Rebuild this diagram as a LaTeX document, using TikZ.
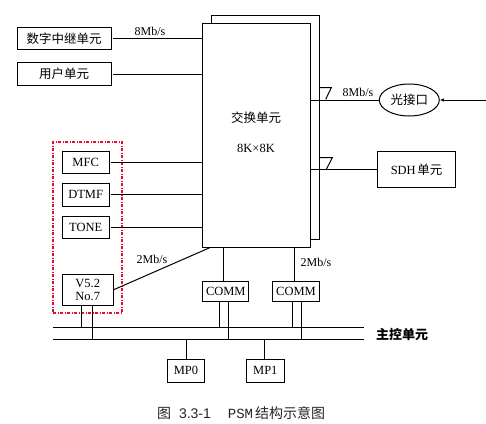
\documentclass[tikz,border=0pt]{standalone}
\usepackage{fontspec}
\setmainfont{Liberation Serif}
\newfontfamily\cjk{Noto Sans CJK SC}
\newfontfamily\capsans{Liberation Sans}
\newfontfamily\capmono{Liberation Mono}
\usetikzlibrary{arrows.meta,shapes.geometric,calc}
\definecolor{dashred}{RGB}{235,10,50}
\tikzset{
  box/.style={draw, inner sep=0pt, font=\fontsize{12.5}{14}\selectfont},
  cjkbox/.style={box, font=\cjk\fontsize{12.5}{14}\selectfont},
  lbl/.style={inner sep=0pt, font=\fontsize{12}{14}\selectfont},
  reddash/.style={draw=dashred, line width=1.2pt, dash pattern=on 3pt off 1.5pt on 1pt off 1.5pt},
}
\begin{document}
\begin{tikzpicture}[x=1pt,y=-1pt,line width=1pt]
\useasboundingbox (0,0) rectangle (486,423);
% switching unit (double box)
\draw (211,15) rectangle (319,239);
\node[box, fill=white, minimum width=108pt, minimum height=224pt] (sw) at (256,135) {};
\node[font=\cjk\fontsize{12.5}{14}\selectfont] (swt1) at (256,118) {交换单元};
\node[font=\fontsize{12.5}{14}\selectfont] (swt2) at (256,148) {8K×8K};
% left units
\node[cjkbox, minimum width=94pt, minimum height=22pt] (dt) at (64,38.3) {数字中继单元};
\node[cjkbox, minimum width=94pt, minimum height=23pt] (yh) at (64,74) {用户单元};
\draw ([xshift=1.3pt]dt.east) -- (dt.east -| sw.west);
\draw ([xshift=1.3pt]yh.east) -- (yh.east -| sw.west);
\node[lbl] (r1) at (150,31) {8Mb/s};
% signalling group
\node[reddash, minimum width=69pt, minimum height=171pt] (grp) at (87.5,227.5) {};
\node[box, minimum width=47pt, minimum height=22pt] (mfc) at (85.7,162.3) {MFC};
\node[box, minimum width=47pt, minimum height=23pt] (dtmf) at (85.7,194.7) {DTMF};
\node[box, minimum width=47pt, minimum height=22pt] (tone) at (85.7,227.3) {TONE};
\draw ([xshift=1.5pt]mfc.east) -- (mfc.east -| sw.west);
\draw ([xshift=1.5pt]dtmf.east) -- (dtmf.east -| sw.west);
\draw ([xshift=1.5pt]tone.east) -- (tone.east -| sw.west);
\node[box, minimum width=51pt, minimum height=31pt, align=center, font=\fontsize{12.5}{13.5}\selectfont] (v5) at (87.7,289.7) {V5.2\\No.7};
\draw (v5.east) -- ([xshift=8.7pt]sw.south west);
\node[lbl] (r2) at (152,259.5) {2Mb/s};
% COMM
\node[box, minimum width=46.3pt, minimum height=20pt] (c1) at (225.8,291.7) {COMM};
\node[box, minimum width=46.6pt, minimum height=20pt] (c2) at (296,291.7) {COMM};
\draw ([xshift=-2.5pt]c1.north) -- ([xshift=-2.5pt]c1.north |- sw.south);
\draw ([xshift=-1.7pt]c2.north) -- ([xshift=-1.7pt]c2.north |- sw.south);
\node[lbl] (r3) at (316,262.7) {2Mb/s};
% buses
\coordinate (b1l) at (52.7,327.3); \coordinate (b1r) at (363.7,327.3);
\coordinate (b2l) at (52.7,339.3); \coordinate (b2r) at (363.7,339.3);
\draw (b1l) -- (b1r);
\draw (b2l) -- (b2r);
\node[font=\cjk\bfseries\fontsize{13}{14}\selectfont] (zk) at (402,334) {主控单元};
\draw ([xshift=-6.4pt]v5.south) -- ([xshift=-6.4pt]v5.south |- b1l);
\draw ([xshift=4.6pt]v5.south) -- ([xshift=4.6pt]v5.south |- b2l);
\draw ([xshift=-6.5pt]c1.south) -- ([xshift=-6.5pt]c1.south |- b1l);
\draw ([xshift=2.7pt]c1.south) -- ([xshift=2.7pt]c1.south |- b2l);
\draw ([xshift=-3.3pt]c2.south) -- ([xshift=-3.3pt]c2.south |- b1l);
\draw ([xshift=5pt]c2.south) -- ([xshift=5pt]c2.south |- b2l);
% MPs
\node[box, minimum width=36.6pt, minimum height=22.7pt] (mp0) at (186,370.7) {MP0};
\node[box, minimum width=38pt, minimum height=22.7pt] (mp1) at (265.3,370.7) {MP1};
\draw (mp0.north) -- (mp0.north |- b2l);
\draw ([xshift=-1pt]mp1.north) -- ([xshift=-1pt]mp1.north |- b2l);
% right side
\node[draw, ellipse, minimum width=60pt, minimum height=32pt, inner sep=0pt, font=\cjk\fontsize{12.5}{14}\selectfont] (gj) at (409.3,100) {光接口};
\draw (gj.west -| sw.east) -- (gj.west);
\draw (319,87.7) -- (331.3,87.7) -- (325.7,99.3);
\node[lbl] (r4) at (358,92.5) {8Mb/s};
\coordinate (inR) at (486,100);
\draw[-{Latex[length=4pt,width=3.5pt]}] (inR) -- (gj.east);
\node[box, minimum width=77.6pt, minimum height=36pt] (sdh) at (416.5,169.7) {SDH\hspace{1.5pt}{\cjk 单元}};
\draw (sdh.west -| sw.east) -- (sdh.west);
\draw (319,157.7) -- (332.3,157.7) -- (326,170);
% caption
\node[anchor=west, inner sep=0pt, text=black!85, font=\fontsize{14}{16}\selectfont] (cap) at (156.5,413.5) {{\cjk 图}\hspace{8pt}{\capsans 3.3-1}\hspace{17pt}{\capmono PSM}\hspace{2pt}{\cjk 结构示意图}};
\end{tikzpicture}
\end{document}
